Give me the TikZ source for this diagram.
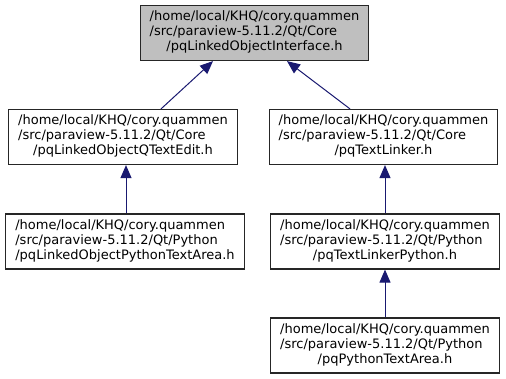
\documentclass[tikz,border=0pt]{standalone}
\usepackage{fontspec}
\setmainfont{DejaVu Sans}
\usetikzlibrary{arrows.meta}
\definecolor{edgeblue}{HTML}{191970}
\definecolor{focusgray}{HTML}{BFBFBF}
\newcommand{\filelabel}[3]{\begin{tabular}{@{}l@{}}#1\\#2\\\multicolumn{1}{@{}c@{}}{#3}\end{tabular}}
\begin{document}
\begin{tikzpicture}[x=1pt,y=-1pt,
  file/.style={draw=black!85, line width=1.2pt, fill=white, inner xsep=9.5pt, inner ysep=5pt,
    font=\fontsize{13}{15}\selectfont},
  focus/.style={file, fill=focusgray},
  edge/.style={draw=edgeblue, line width=1pt, -{Triangle[length=13pt,width=11pt,fill=edgeblue]}}]
\useasboundingbox (0,0) rectangle (506,379);

\node[focus] (iface) at (254.5,33)
  {\filelabel{/home/local/KHQ/cory.quammen}{/src/paraview-5.11.2/Qt/Core}{/pqLinkedObjectInterface.h}};
\node[file] (qtextedit) at (123,137)
  {\filelabel{/home/local/KHQ/cory.quammen}{/src/paraview-5.11.2/Qt/Core}{/pqLinkedObjectQTextEdit.h}};
\node[file] (linker) at (383.5,137)
  {\filelabel{/home/local/KHQ/cory.quammen}{/src/paraview-5.11.2/Qt/Core}{/pqTextLinker.h}};
\node[file] (pytextarea) at (125,241.5)
  {\filelabel{/home/local/KHQ/cory.quammen}{/src/paraview-5.11.2/Qt/Python}{/pqLinkedObjectPythonTextArea.h}};
\node[file] (linkerpy) at (385,241.5)
  {\filelabel{/home/local/KHQ/cory.quammen}{/src/paraview-5.11.2/Qt/Python}{/pqTextLinkerPython.h}};
\node[file] (pyarea) at (385,345.5)
  {\filelabel{/home/local/KHQ/cory.quammen}{/src/paraview-5.11.2/Qt/Python}{/pqPythonTextArea.h}};

\draw[edge] ([xshift=38pt]qtextedit.north) -- ([xshift=-41.5pt]iface.south);
\draw[edge] ([xshift=-33.5pt]linker.north) -- ([xshift=32.5pt]iface.south);
\draw[edge] (pytextarea.north -| 126,0) -- (qtextedit.south -| 126,0);
\draw[edge] (linkerpy.north -| 385,0) -- (linker.south -| 385,0);
\draw[edge] (pyarea.north) -- (linkerpy.south);
\end{tikzpicture}
\end{document}
